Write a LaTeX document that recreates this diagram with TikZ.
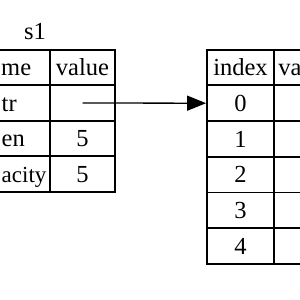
\documentclass[tikz,border=0pt]{standalone}
\usepackage{fontspec}
\setmainfont{Liberation Serif}
\usetikzlibrary{arrows.meta}
\begin{document}
\begin{tikzpicture}[x=1pt,y=-1pt,
  txt/.style={font=\fontsize{24.5}{28}\selectfont,inner sep=0pt},
  cell/.style={txt,draw=black,line width=1.8pt,minimum height=#1,
    text height=16.6pt,text depth=0pt},
  cell/.default=35.5pt,
  namecol/.style={cell,minimum width=95pt},
  valcol/.style={cell,minimum width=65pt},
  idxcol/.style={cell=35.7pt,minimum width=67pt},
  hvalcol/.style={cell=35.7pt,minimum width=65pt},
  lbl/.style={txt,anchor=base west},
  ptrarrow/.style={line width=1.3pt,-{Triangle[length=19pt,width=15pt]}}]
\useasboundingbox (0,0) rectangle (300,300);
\clip (0,0) rectangle (300,300);
\fill[white] (0,0) rectangle (300,300);
% stack table
\node[txt,anchor=base] (s1) at (35,39) {s1};
\node[namecol] (hname) at (2.5,67.5) {};
\node[valcol] (hvalue) at (82.5,67.5) {value};
\node[namecol] (nptr) at (2.5,103) {};
\node[valcol] (vptr) at (82.5,103) {};
\node[namecol] (nlen) at (2.5,138.5) {};
\node[valcol] (vlen) at (82.5,138.5) {5};
\node[namecol] (ncap) at (2.5,174) {};
\node[valcol] (vcap) at (82.5,174) {5};
\node[lbl] (tname) at ([xshift=-1.5pt,yshift=-8.3pt]hname.center) {me};
\node[lbl] (tptr) at ([xshift=-1pt,yshift=-8.3pt]nptr.center) {tr};
\node[lbl] (tlen) at ([xshift=-1pt,yshift=-8.3pt]nlen.center) {en};
\node[lbl,font=\fontsize{23}{28}\selectfont] (tcap) at ([xshift=-1pt,yshift=-8.3pt]ncap.center) {acity};
% heap table
\node[idxcol] (hidx) at (240.5,67.5) {index};
\node[hvalcol] (hhval) at (306.5,67.5) {};
\node[txt,anchor=base west] (tva) at ([xshift=5pt,yshift=-8.3pt]hhval.west) {va};
\node[idxcol] (i0) at (240.5,103.2) {0};
\node[hvalcol] (v0) at (306.5,103.2) {};
\node[idxcol] (i1) at (240.5,138.9) {1};
\node[hvalcol] (v1) at (306.5,138.9) {};
\node[idxcol] (i2) at (240.5,174.6) {2};
\node[hvalcol] (v2) at (306.5,174.6) {};
\node[idxcol] (i3) at (240.5,210.3) {3};
\node[hvalcol] (v3) at (306.5,210.3) {};
\node[idxcol] (i4) at (240.5,246) {4};
\node[hvalcol] (v4) at (306.5,246) {};
\draw[ptrarrow] (vptr.center) -- (i0.west);
\end{tikzpicture}
\end{document}
